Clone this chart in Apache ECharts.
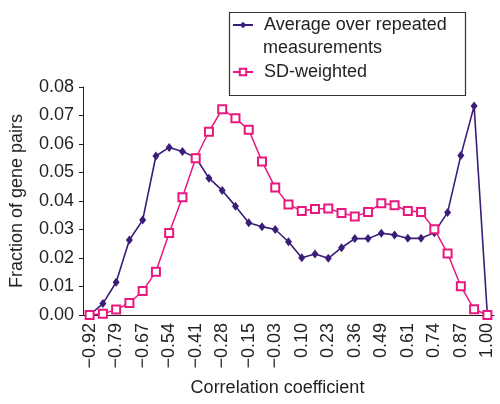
<!DOCTYPE html>
<html>
<head>
<meta charset="utf-8">
<script src="https://cdn.jsdelivr.net/npm/echarts@6/dist/echarts.min.js"></script>
<style>html,body{margin:0;padding:0;background:#fff}#c{width:500px;height:404px}</style>
</head>
<body>
<div id="c"></div>
<script>
var categories = ['\u22120.92','\u22120.86','\u22120.79','\u22120.73','\u22120.67','\u22120.60','\u22120.54','\u22120.48','\u22120.41','\u22120.35','\u22120.28','\u22120.22','\u22120.15','\u22120.09','\u22120.03','0.04','0.10','0.17','0.23','0.30','0.36','0.42','0.49','0.55','0.61','0.68','0.74','0.81','0.87','0.94','1.00'];
var averageSeries = [0.000,0.004,0.0115,0.0263,0.0333,0.0558,0.0588,0.0574,0.0553,0.048,0.0437,0.0382,0.0324,0.031,0.030,0.0257,0.0201,0.0214,0.0199,0.0236,0.0268,0.0268,0.0287,0.0281,0.0269,0.0269,0.0289,0.036,0.056,0.0733,0.000];
var sdWeightedSeries = [0.000,0.0004,0.0019,0.0042,0.0084,0.0152,0.0288,0.0413,0.055,0.0643,0.0722,0.069,0.065,0.0539,0.0447,0.0388,0.0365,0.0372,0.0374,0.0358,0.0346,0.0361,0.0392,0.0385,0.0365,0.0361,0.0301,0.0216,0.0101,0.002,0.000];
var seriesNames = ['Average over repeated', 'SD-weighted'];
var legendSecondLine = 'measurements';
var yTicks = {min: 0, max: 0.08, interval: 0.01};

var FONT = 'Liberation Sans, Arial, Helvetica, sans-serif';
var TXT = '#231f20';
var chart = echarts.init(document.getElementById('c'), null, {renderer: 'canvas'});
chart.setOption({
  animation: false,
  backgroundColor: '#fff',
  textStyle: {fontFamily: FONT, color: TXT},
  grid: {left: 79.5, right: 6, top: 87, bottom: 89, containLabel: false},
  legend: {
    orient: 'vertical', left: 227, top: 14, itemGap: 25, padding: [0, 0, 0, 5],
    itemWidth: 20, itemHeight: 8,
    textStyle: {fontFamily: FONT, fontSize: 18, color: TXT, lineHeight: 22, padding: [0, 0, 0, 6]},
    data: seriesNames
  },
  xAxis: {
    type: 'category', data: categories, boundaryGap: true,
    axisLine: {lineStyle: {color: TXT, width: 1}},
    axisTick: {alignWithLabel: true, interval: 0, length: 5, lineStyle: {color: TXT}},
    axisLabel: {interval: 1, rotate: 90, fontFamily: FONT, fontSize: 18, color: TXT, margin: 8},
    name: 'Correlation coefficient', nameLocation: 'middle', nameGap: 64,
    nameTextStyle: {fontFamily: FONT, fontSize: 18, color: TXT, padding: [0, 22, 0, 0]}
  },
  yAxis: {
    type: 'value', min: yTicks.min, max: yTicks.max, interval: yTicks.interval,
    axisLine: {show: true, lineStyle: {color: TXT, width: 1}},
    axisTick: {show: true, length: 4, lineStyle: {color: TXT}},
    splitLine: {show: false},
    axisLabel: {fontFamily: FONT, fontSize: 18, color: TXT, margin: 9, formatter: function(v){return v.toFixed(2);}},
    name: 'Fraction of gene pairs', nameLocation: 'middle', nameGap: 57,
    nameTextStyle: {fontFamily: FONT, fontSize: 18, color: TXT}
  },
  graphic: [
    {type: 'rect', left: 227, top: 10, shape: {width: 236, height: 83}, style: {fill: 'none', stroke: '#333', lineWidth: 1.2}, z: 1},
    {type: 'text', left: 263, top: 39, style: {text: legendSecondLine, font: '18px ' + FONT, fill: TXT}}
  ],
  series: [
    {
      name: seriesNames[0], type: 'line', data: averageSeries,
      symbol: 'diamond', symbolSize: [7, 9], showAllSymbol: true,
      lineStyle: {color: '#3b1c78', width: 1.6},
      itemStyle: {color: '#3b1c78'}
    },
    {
      name: seriesNames[1], type: 'line', data: sdWeightedSeries,
      symbol: 'emptyRect', symbolSize: 8, showAllSymbol: true,
      lineStyle: {color: '#e8187f', width: 1.5},
      itemStyle: {color: '#e8187f', borderWidth: 1.3}
    }
  ]
});
</script>
</body>
</html>
